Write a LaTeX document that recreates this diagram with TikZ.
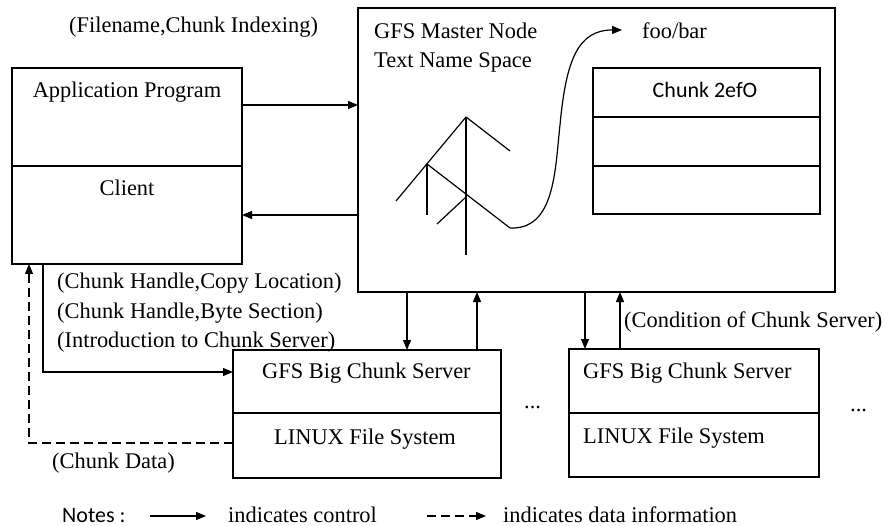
\documentclass[tikz,border=0pt]{standalone}
\usepackage{fontspec}
\setmainfont{Liberation Serif}
\newfontfamily\calibfont{Carlito}
\usetikzlibrary{arrows.meta}
\begin{document}
\begin{tikzpicture}[x=1pt,y=-1pt,
  every node/.style={font=\fontsize{22.4}{26}\selectfont},
  box/.style={draw, line width=1.2pt, anchor=north west, inner sep=0pt, outer sep=0pt},
  txt/.style={anchor=base west, inner sep=0pt},
  ctxt/.style={anchor=base, inner sep=0pt},
  ln/.style={line width=1.2pt},
  ctrl/.style={line width=1.2pt, -{Triangle[length=10pt,width=8pt]}},
  data/.style={line width=1.2pt, dash pattern=on 9pt off 5pt, -{Triangle[length=10pt,width=8pt]}}]
\useasboundingbox (0,0) rectangle (885,526);

% boxes
\node[box, minimum width=230, minimum height=196] (cl) at (12,68) {};
\node[box, minimum width=477, minimum height=284] (ms) at (358,8) {};
\node[box, minimum width=227, minimum height=146] (tb) at (593,68) {};
\node[box, minimum width=268, minimum height=128] (s1) at (233,350) {};
\node[box, minimum width=250, minimum height=128] (s2) at (569,349) {};

% dividers
\coordinate (dv1) at (0,166);
\draw[ln] (cl.west |- dv1) -- (cl.east |- dv1);
\coordinate (tr1) at (0,117);
\coordinate (tr2) at (0,166);
\draw[ln] (tb.west |- tr1) -- (tb.east |- tr1);
\draw[ln] (tb.west |- tr2) -- (tb.east |- tr2);
\coordinate (dv2) at (0,413);
\draw[ln] (s1.west |- dv2) -- (s1.east |- dv2);
\draw[ln] (s2.west |- dv2) -- (s2.east |- dv2);

% texts
\node[txt] (t1) at (69,33) {(Filename,Chunk Indexing)};
\node[ctxt] (t2) at (127,98) {Application Program};
\node[ctxt] (t3) at (127,196) {Client};
\node[txt] (t4) at (374,39) {GFS Master Node};
\node[txt] (t5) at (374,68) {Text Name Space};
\node[txt] (foo) at (642,39) {foo/bar};
\node[ctxt, font=\calibfont\fontsize{22}{26}\selectfont] (t6) at (705,98) {Chunk 2efO};
\node[txt] (t7) at (57,289) {(Chunk Handle,Copy Location)};
\node[txt] (t8) at (57,318) {(Chunk Handle,Byte Section)};
\node[txt] (t9) at (57,347) {(Introduction to Chunk Server)};
\node[txt] (t10) at (52,468) {(Chunk Data)};
\node[txt] (t11) at (262,378) {GFS Big Chunk Server};
\node[txt] (t12) at (274,444) {LINUX File System};
\node[txt] (t13) at (583,378) {GFS Big Chunk Server};
\node[txt] (t14) at (583,443) {LINUX File System};
\node[txt] (t15) at (624,327) {(Condition of Chunk Server)};
\node[txt] (t16) at (524,408) {...};
\node[txt] (t17) at (850,411) {...};

% tree
\draw[ln] (466,117) -- (466,255);
\draw[ln] (466,117) -- (510,151);
\draw[ln] (466,117) -- (396,201);
\draw[ln] (427,164) -- (427,215);
\draw[ln] (437,224) -- (466,197);
\draw[ln] (427,164) -- (510,228) coordinate (treeend);
\coordinate (footip) at (622,30);
\draw[ctrl] (treeend) .. controls (555,230) and (555,170) .. (560,125)
  .. controls (566,60) and (578,30) .. (footip);

% connectors
\coordinate (y105) at (0,105);
\coordinate (y215) at (0,215);
\draw[ctrl] (cl.east |- y105) -- (ms.west |- y105);
\draw[ctrl] (ms.west |- y215) -- (cl.east |- y215);

\coordinate (c1) at (43,372);
\draw[ctrl] (c1 |- cl.south) -- (c1) -- (c1 -| s1.west);
\coordinate (c2) at (29,443);
\draw[data] (c2 -| s1.west) -- (c2) -- (c2 |- cl.south);

\coordinate (x407) at (407,0);
\coordinate (x477) at (477,0);
\coordinate (x585) at (585,0);
\coordinate (x620) at (620,0);
\draw[ctrl] (x407 |- ms.south) -- (x407 |- s1.north);
\draw[ctrl] (x477 |- s1.north) -- (x477 |- ms.south);
\draw[ctrl] (x585 |- ms.south) -- (x585 |- s2.north);
\draw[ctrl] (x620 |- s2.north) -- (x620 |- ms.south);

% legend
\node[txt, font=\calibfont\fontsize{22}{26}\selectfont] (n1) at (62,522) {Notes :};
\coordinate (l1a) at (150,516);
\coordinate (l1b) at (206,516);
\draw[ctrl] (l1a) -- (l1b);
\node[txt] (n2) at (228,522) {indicates control};
\coordinate (l2a) at (427,516);
\coordinate (l2b) at (486,516);
\draw[data] (l2a) -- (l2b);
\node[txt] (n3) at (503,522) {indicates data information};
\end{tikzpicture}
\end{document}
